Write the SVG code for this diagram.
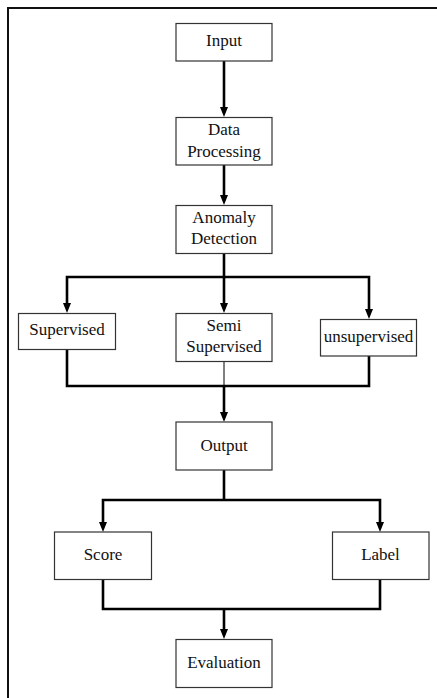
<svg xmlns="http://www.w3.org/2000/svg" width="437" height="698" viewBox="0 0 437 698">
  <style>
    .box { fill: #ffffff; stroke: #333333; stroke-width: 1.2; }
    .lbl { font-family: "Liberation Serif", "Times New Roman", serif; font-size: 17px; fill: #111111; text-anchor: middle; }
    .wire { fill: none; stroke: #000000; stroke-width: 2.6; }
    .thin { fill: none; stroke: #000000; stroke-width: 1; }
    .head { fill: #000000; }
    .frame { fill: none; stroke: #111111; stroke-width: 2; }
  </style>
  <defs>
    <!-- downward arrowhead, tip at (0,0) -->
    <path id="tip" class="head" d="M-4,-10 L4,-10 L0,0 Z"/>
  </defs>

  <rect width="437" height="698" fill="#ffffff"/>
  <!-- page frame (only top and left edges fall inside the canvas) -->
  <rect class="frame" x="8" y="8" width="460" height="720"/>

  <g id="connectors">
    <!-- straight flow -->
    <path class="wire" d="M224,61 V108"/>
    <use href="#tip" x="224" y="117"/>
    <path class="wire" d="M224,165 V196"/>
    <use href="#tip" x="224" y="205"/>

    <!-- split into three methods -->
    <path class="wire" d="M224,253 V277 M67,304 V277 H369 V310 M224,277 V304"/>
    <use href="#tip" x="67" y="313"/>
    <use href="#tip" x="224" y="313"/>
    <use href="#tip" x="369" y="319"/>

    <!-- merge into output -->
    <path class="wire" d="M67,349 V386 H369 V356"/>
    <path class="thin" d="M224,362 V386"/>
    <path class="wire" d="M224,386 V413"/>
    <use href="#tip" x="224" y="422"/>

    <!-- split into score / label -->
    <path class="wire" d="M224,470 V500 M103,523 V500 H380 V523"/>
    <use href="#tip" x="103" y="532"/>
    <use href="#tip" x="380" y="532"/>

    <!-- merge into evaluation -->
    <path class="wire" d="M103,579 V609 H380 V579 M224,609 V630"/>
    <use href="#tip" x="224" y="639"/>
  </g>

  <g id="input">
    <rect class="box" x="176" y="23.5" width="96" height="37.5"/>
    <text class="lbl" x="224" y="46">Input</text>
  </g>
  <g id="data-processing">
    <rect class="box" x="176" y="117.5" width="96" height="47.5"/>
    <text class="lbl" x="224" y="134.5">Data</text>
    <text class="lbl" x="224" y="156.5">Processing</text>
  </g>
  <g id="anomaly-detection">
    <rect class="box" x="176" y="205.5" width="96" height="48"/>
    <text class="lbl" x="224" y="223">Anomaly</text>
    <text class="lbl" x="224" y="244">Detection</text>
  </g>
  <g id="supervised">
    <rect class="box" x="18.5" y="313.5" width="97" height="36"/>
    <text class="lbl" x="67" y="335">Supervised</text>
  </g>
  <g id="semi-supervised">
    <rect class="box" x="176" y="313.5" width="96" height="48"/>
    <text class="lbl" x="224" y="331">Semi</text>
    <text class="lbl" x="224" y="351.5">Supervised</text>
  </g>
  <g id="unsupervised">
    <rect class="box" x="320.5" y="319.5" width="96" height="36.5"/>
    <text class="lbl" x="368.5" y="341.5">unsupervised</text>
  </g>
  <g id="output">
    <rect class="box" x="176" y="422" width="96" height="48"/>
    <text class="lbl" x="224" y="450.5">Output</text>
  </g>
  <g id="score">
    <rect class="box" x="54.5" y="532" width="97" height="47.5"/>
    <text class="lbl" x="103" y="559.5">Score</text>
  </g>
  <g id="label">
    <rect class="box" x="332.5" y="532" width="96.5" height="47.5"/>
    <text class="lbl" x="380.5" y="559.5">Label</text>
  </g>
  <g id="evaluation">
    <rect class="box" x="176" y="639.5" width="96" height="48"/>
    <text class="lbl" x="224" y="667.5">Evaluation</text>
  </g>
</svg>
